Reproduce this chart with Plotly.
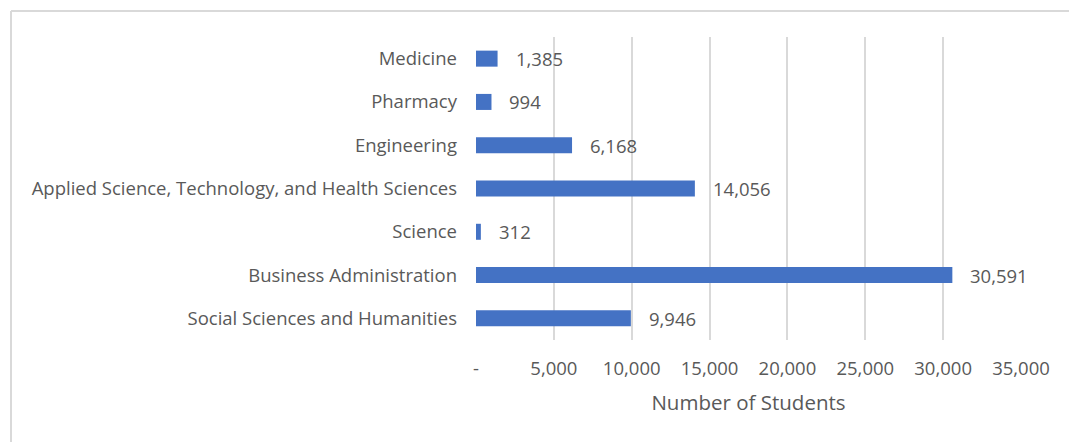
import plotly.graph_objects as go

# Enrolment by faculty
faculties = [
    "Medicine",
    "Pharmacy",
    "Engineering",
    "Applied Science, Technology, and Health Sciences",
    "Science",
    "Business Administration",
    "Social Sciences and Humanities",
]
students = [1385, 994, 6168, 14056, 312, 30591, 9946]

tick_vals = [0, 5000, 10000, 15000, 20000, 25000, 30000, 35000]
tick_text = ["-", "5,000", "10,000", "15,000", "20,000", "25,000", "30,000", "35,000"]

BAR = "#4472C4"
TEXT = "#595959"
GRID = "#D9D9D9"
FONT = "Open Sans"
FS = 18.5

W, H = 1069, 442
L, R, T, B = 476, 48, 37, 102
PW, PH = W - L - R, H - T - B

fig = go.Figure(
    go.Bar(
        x=students,
        y=faculties,
        orientation="h",
        marker=dict(color=BAR, line=dict(width=0)),
        width=0.37,
        hoverinfo="x+y",
    )
)

# value labels just past the end of each bar
for name, val in zip(faculties, students):
    fig.add_annotation(
        x=val, y=name, xref="x", yref="y",
        text=f"{val:,}", showarrow=False,
        xanchor="left", yanchor="middle", xshift=16, yshift=0,
        font=dict(family=FONT, size=FS, color=TEXT),
    )

# frame lines along the top and left edges
def px_to_paper_x(px):
    return (px - L) / PW

def px_to_paper_y(py):
    return (H - B - py) / PH

fig.add_shape(type="line", xref="paper", yref="paper",
              x0=px_to_paper_x(11), x1=px_to_paper_x(1070),
              y0=px_to_paper_y(11), y1=px_to_paper_y(11),
              line=dict(color=GRID, width=2))
fig.add_shape(type="line", xref="paper", yref="paper",
              x0=px_to_paper_x(11), x1=px_to_paper_x(11),
              y0=px_to_paper_y(11), y1=px_to_paper_y(443),
              line=dict(color=GRID, width=2))

fig.update_layout(
    width=W, height=H,
    margin=dict(l=L, r=R, t=T, b=B, pad=0),
    paper_bgcolor="white", plot_bgcolor="white",
    showlegend=False,
    font=dict(family=FONT, size=FS, color=TEXT),
    xaxis=dict(
        range=[0, 35000],
        tickvals=tick_vals, ticktext=tick_text,
        showgrid=True, gridcolor=GRID, gridwidth=2,
        zeroline=False, showline=False,
        ticks="", ticklabelstandoff=15,
        tickfont=dict(family=FONT, size=FS, color=TEXT),
        title=dict(text="Number of Students", standoff=17,
                   font=dict(family=FONT, size=20.5, color=TEXT)),
        fixedrange=True,
    ),
    yaxis=dict(
        categoryorder="array", categoryarray=faculties[::-1],
        showgrid=False, zeroline=False, showline=False,
        ticks="", ticklabelstandoff=18,
        tickfont=dict(family=FONT, size=FS, color=TEXT),
        fixedrange=True,
    ),
)

fig.write_html("out.html")
